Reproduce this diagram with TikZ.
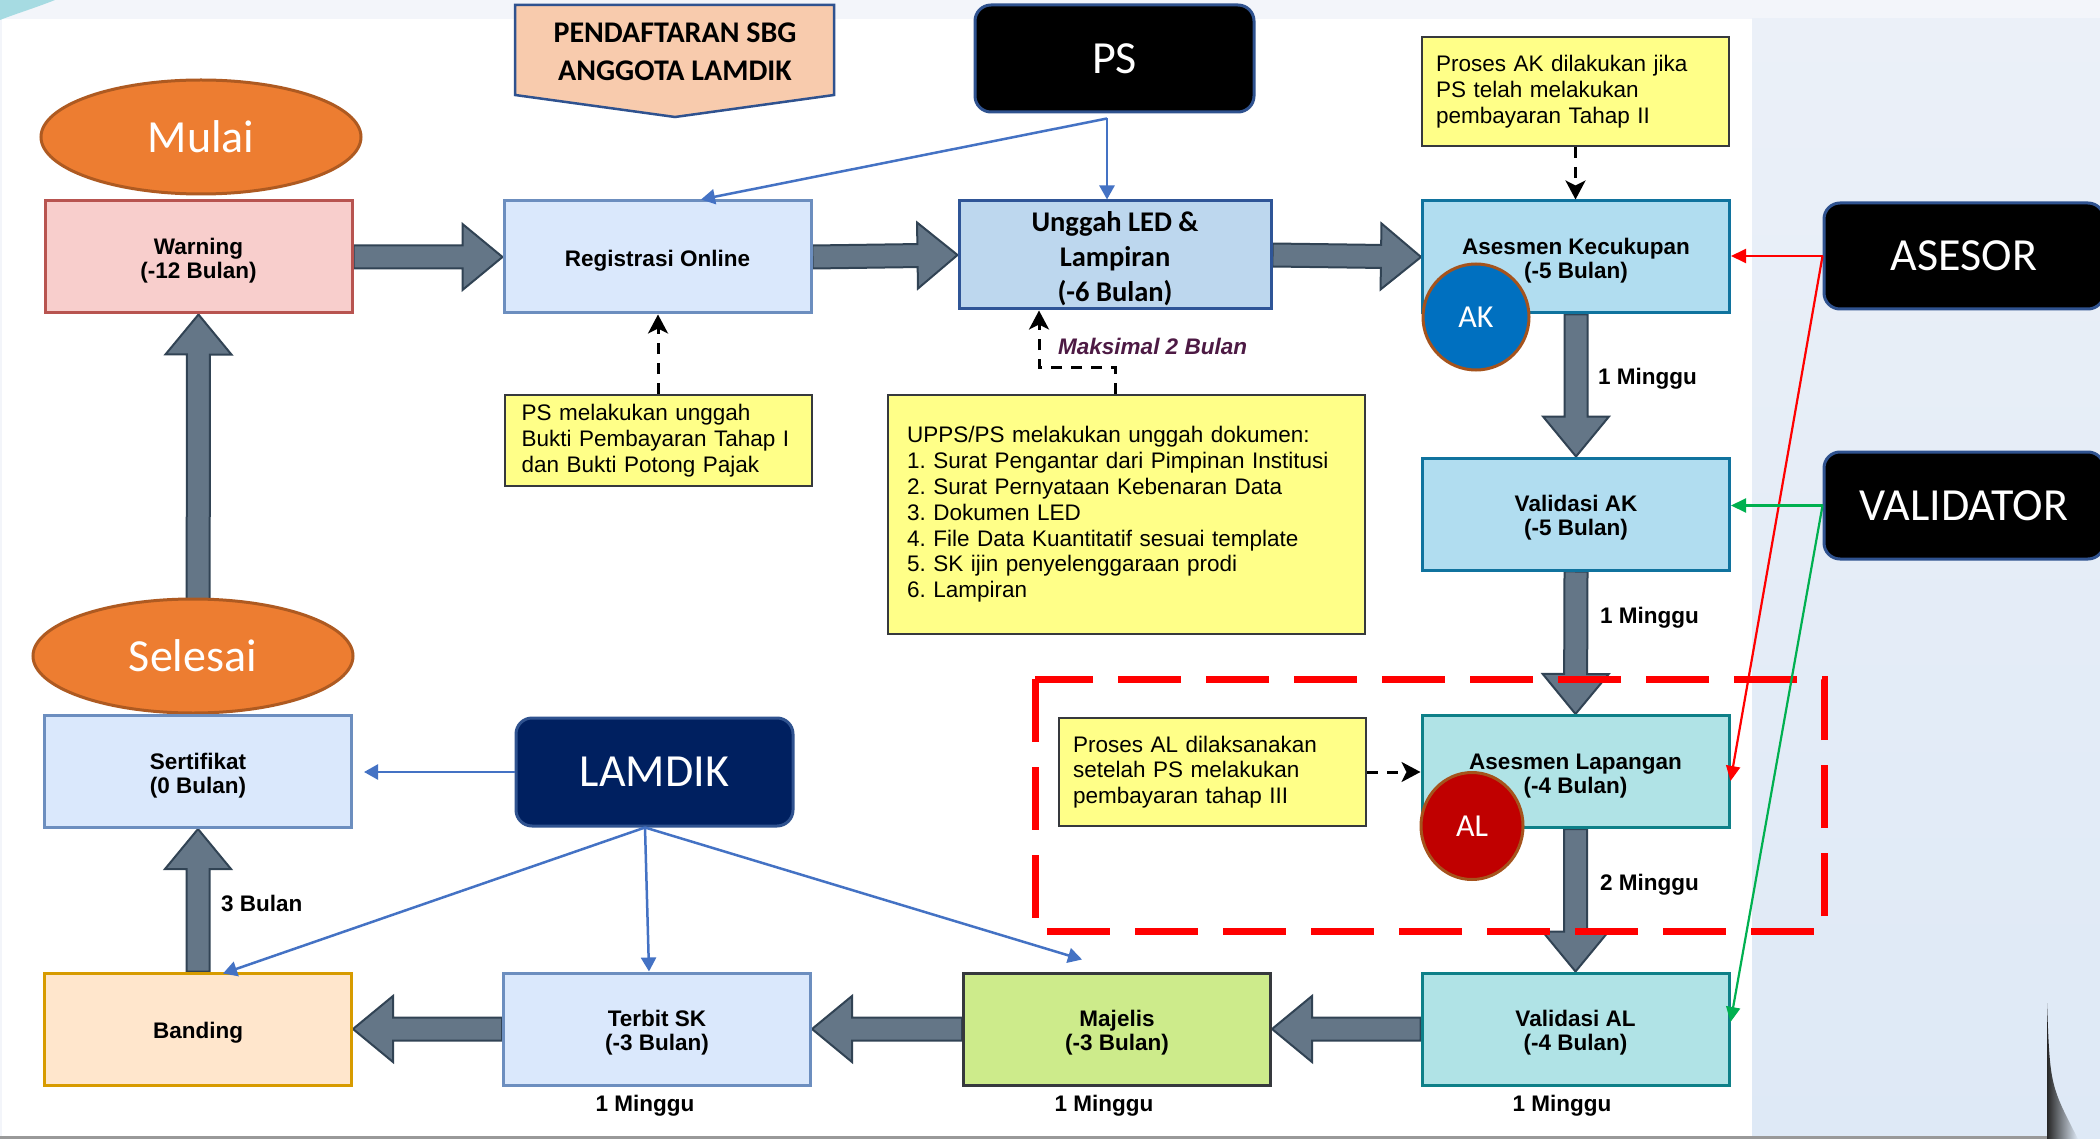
\documentclass[tikz,border=0pt]{standalone}
\usepackage{fontspec}
\setmainfont{Liberation Sans}
\newfontfamily\calfont{Carlito}
\usetikzlibrary{arrows.meta,calc,shapes.geometric}
\frenchspacing
\definecolor{warnF}{HTML}{F8CECC}\definecolor{warnD}{HTML}{B85450}
\definecolor{blueF}{HTML}{DAE8FC}\definecolor{blueD}{HTML}{6C8EBF}
\definecolor{unggF}{HTML}{BDD7EE}\definecolor{unggD}{HTML}{2F5597}
\definecolor{akF}{HTML}{B1DDF0}\definecolor{akD}{HTML}{10739E}
\definecolor{alF}{HTML}{B0E3E6}\definecolor{alD}{HTML}{0E8088}
\definecolor{bandF}{HTML}{FFE6CC}\definecolor{bandD}{HTML}{D79B00}
\definecolor{majF}{HTML}{CDEB8B}\definecolor{majD}{HTML}{36393D}
\definecolor{noteF}{HTML}{FFFF88}\definecolor{noteD}{HTML}{36393D}
\definecolor{arrF}{HTML}{647687}\definecolor{arrD}{HTML}{314354}
\definecolor{orgF}{HTML}{ED7D31}\definecolor{orgD}{HTML}{AE5A21}
\definecolor{pendF}{HTML}{F8CBAD}\definecolor{bdrBlue}{HTML}{2F528F}
\definecolor{lamF}{HTML}{002060}\definecolor{connC}{HTML}{4472C4}
\definecolor{akC}{HTML}{0070C0}\definecolor{alC}{HTML}{C00000}
\definecolor{circD}{HTML}{A5531C}\definecolor{redC}{HTML}{FF0000}
\definecolor{greenC}{HTML}{00B050}\definecolor{maksC}{HTML}{4D1A44}
\definecolor{bandBg}{HTML}{F3F5FA}\definecolor{rightTop}{HTML}{EBF0F8}
\definecolor{rightBot}{HTML}{DEE9F6}\definecolor{swooshC}{HTML}{A6DBE2}
\pgfdeclarelayer{back}\pgfdeclarelayer{bg}\pgfsetlayers{back,bg,main}
\newcommand\blockarr[2]{%
  \coordinate (ba-h) at ($(#2)!40pt!(#1)$);
  \filldraw[barrow] ($(#1)!11.5pt!90:(#2)$) -- ($(ba-h)!11.5pt!-90:(#1)$) -- ($(ba-h)!33pt!-90:(#1)$) -- (#2) -- ($(ba-h)!33pt!90:(#1)$) -- ($(ba-h)!11.5pt!90:(#1)$) -- ($(#1)!11.5pt!-90:(#2)$) -- cycle;}
\newcommand\tstrut{\rule{0pt}{24pt}}
\newcommand\ustrut{\rule{0pt}{28pt}}
\begin{document}
\begin{tikzpicture}[x=1pt,y=-1pt,
  box/.style={draw, line width=3pt, minimum width=307pt, minimum height=112pt, inner sep=0pt, align=center, font=\bfseries\fontsize{22.5}{24}\selectfont},
  note/.style={draw=noteD, fill=noteF, line width=2pt, align=left, inner ysep=0pt, font=\fontsize{22.5}{25.8}\selectfont},
  oval/.style={ellipse, draw=orgD, fill=orgF, line width=3pt, minimum width=320pt, minimum height=114pt, inner sep=0pt, text=white, font=\calfont\fontsize{46}{50}\selectfont},
  blk/.style={rounded corners=16pt, draw=bdrBlue, fill=black, line width=3pt, inner sep=0pt, text=white, font=\calfont\fontsize{46}{50}\selectfont},
  badge/.style={ellipse, draw=circD, line width=3pt, inner sep=0pt, text=white, font=\calfont\fontsize{32}{36}\selectfont},
  barrow/.style={fill=arrF, draw=arrD, line width=2pt, line join=miter},
  conn/.style={draw=connC, line width=2.5pt, -{Triangle[length=14pt,width=15pt]}},
  redc/.style={draw=redC, line width=2.2pt, -{Triangle[length=15pt,width=14pt]}},
  greenc/.style={draw=greenC, line width=2.2pt, -{Triangle[length=15pt,width=14pt]}},
  dasharr/.style={draw=black, line width=3pt, dash pattern=on 11pt off 9pt, -{Stealth[length=19pt,width=20pt,inset=5pt]}},
  lab/.style={inner sep=0pt, font=\bfseries\fontsize{22.5}{24}\selectfont},
  redbox/.style={draw=redC, line width=7pt, dash pattern=on 63pt off 25pt}
]
\useasboundingbox (0,0) rectangle (2100,1139);
\begin{pgfonlayer}{back}
  \fill[bandBg] (0,0) rectangle (2100,1139);
  \fill[white] (2,19) rectangle (1752,1139);
  \shade[top color=rightTop, bottom color=rightBot] (1752,19) rectangle (2100,1139);
  \fill[swooshC] (0,0) -- (55,0) .. controls (35,8) and (15,14) .. (0,20) -- cycle;
  \shade[left color=black!85, right color=rightBot] (2047,1003) .. controls (2050,1085) .. (2078,1139) -- (2047,1139) -- cycle;
  \fill[black!40] (0,1136) rectangle (2047,1139);
\end{pgfonlayer}

% pentagon banner
\draw[fill=pendF, draw=bdrBlue, line width=2.5pt] (515,5) -- (834,5) -- (834,95) -- (675,117) -- (515,95) -- cycle;
\node[align=center, inner sep=0pt, font=\calfont\bfseries\fontsize{30}{38}\selectfont] (pend) at (675,52) {PENDAFTARAN SBG\\ANGGOTA LAMDIK};

% ovals
\node[oval] (mulai) at (201,137) {Mulai};
\node[oval] (sel) at (193,656) {Selesai};

% actor boxes
\node[blk, minimum width=279pt, minimum height=107pt] (ps) at (1114.5,58.5) {PS};
\node[blk, minimum width=280pt, minimum height=106pt] (asesor) at (1964,256) {ASESOR};
\node[blk, minimum width=280pt, minimum height=107pt] (validator) at (1964,505.5) {VALIDATOR};
\node[blk, fill=lamF, minimum width=277pt, minimum height=108pt] (lamdik) at (654.5,772) {LAMDIK};

% process boxes
\node[box, fill=warnF, draw=warnD] (warn) at (198.5,257) {\tstrut Warning\\(-12 Bulan)};
\node[box, fill=blueF, draw=blueD] (reg) at (657.5,257) {\tstrut Registrasi Online};
\node[box, fill=unggF, draw=unggD, minimum width=312pt, minimum height=108pt, font=\calfont\bfseries\fontsize{28.5}{35}\selectfont] (ungg) at (1115,255) {\ustrut Unggah LED \&\\Lampiran\\(-6 Bulan)};
\node[box, fill=akF, draw=akD] (akk) at (1576,257) {\tstrut Asesmen Kecukupan\\(-5 Bulan)};
\node[box, fill=akF, draw=akD] (vak) at (1576,514) {\tstrut Validasi AK\\(-5 Bulan)};
\node[box, fill=alF, draw=alD] (alap) at (1575.5,771.5) {\tstrut Asesmen Lapangan\\(-4 Bulan)};
\node[box, fill=alF, draw=alD] (val) at (1575.5,1029) {\tstrut Validasi AL\\(-4 Bulan)};
\node[box, fill=majF, draw=majD] (maj) at (1117,1029) {\tstrut Majelis\\(-3 Bulan)};
\node[box, fill=blueF, draw=blueD] (tsk) at (657,1029) {\tstrut Terbit SK\\(-3 Bulan)};
\node[box, fill=bandF, draw=bandD] (band) at (198,1029) {\tstrut Banding};
\node[box, fill=blueF, draw=blueD] (sert) at (198,771.5) {\tstrut Sertifikat\\(0 Bulan)};

% badges
\node[badge, fill=akC, minimum width=106pt, minimum height=106pt] (akb) at (1476,317) {AK};
\node[badge, fill=alC, minimum width=102pt, minimum height=107pt] (alb) at (1472,826) {AL};

% notes
\node[note, text width=273pt, inner xsep=17pt, minimum height=91pt] (psnote) at (658,440.5) {PS melakukan unggah\\Bukti Pembayaran Tahap I\\dan Bukti Potong Pajak};
\node[note, text width=439pt, inner xsep=19pt, minimum height=239pt] (upps) at (1126.5,514.5) {UPPS/PS melakukan unggah dokumen:\\1. Surat Pengantar dari Pimpinan Institusi\\2. Surat Pernyataan Kebenaran Data\\3. Dokumen LED\\4. File Data Kuantitatif sesuai template\\5. SK ijin penyelenggaraan prodi\\6. Lampiran};
\node[note, text width=279pt, inner xsep=14pt, minimum height=109pt] (aknote) at (1575.5,91.5) {Proses AK dilakukan jika\\PS telah melakukan\\pembayaran Tahap II};
\node[note, text width=279pt, inner xsep=14pt, minimum height=108pt] (alnote) at (1212.5,772) {Proses AL dilaksanakan\\setelah PS melakukan\\pembayaran tahap III};

% labels
\node[lab, anchor=west] (m1) at (1598,379) {1 Minggu};
\node[lab, anchor=west] (m2) at (1600,618) {1 Minggu};
\node[lab, anchor=west] (m3) at (1600,885) {2 Minggu};
\node[lab, anchor=west] (b3) at (221,903) {3 Bulan};
\node[lab] (m4) at (645,1106) {1 Minggu};
\node[lab] (m5) at (1104,1106) {1 Minggu};
\node[lab] (m6) at (1562,1106) {1 Minggu};
\node[lab, anchor=west, text=maksC, font=\bfseries\itshape\fontsize{22.5}{24}\selectfont] (maks) at (1058,346) {Maksimal 2 Bulan};

% thick block arrows (behind the boxes)
\begin{pgfonlayer}{bg}
  \blockarr{warn.east}{reg.west}
  \blockarr{reg.east}{ungg.west}
  \blockarr{ungg.east}{akk.west}
  \blockarr{akk.south}{vak.north}
  \blockarr{vak.south}{alap.north}
  \blockarr{alap.south}{val.north}
  \blockarr{val.west}{maj.east}
  \blockarr{maj.west}{tsk.east}
  \blockarr{tsk.west}{band.east}
  \blockarr{band.north}{sert.south}
  \blockarr{sert.north}{warn.south}
\end{pgfonlayer}

% red dashed frame
\draw[redbox] (1035,679) rectangle (1824,931);

% blue connectors
\coordinate (psA) at ([shift={(-7.5,5)}]ps.south);
\draw[conn] (psA) -- ([xshift=43.5pt]reg.north);
\draw[conn] (psA) -- ([xshift=-8pt]ungg.north);
\coordinate (sertT) at ([xshift=11pt]sert.east);
\draw[conn] (lamdik.west) -- (sertT |- lamdik.west);
\coordinate (lamB) at ([xshift=-9.5pt]lamdik.south);
\draw[conn] (lamB) -- ([xshift=25pt,yshift=-2pt]band.north);
\draw[conn] (lamB) -- ([xshift=-8pt]tsk.north);
\draw[conn] (lamB) -- ([xshift=-35pt,yshift=12pt]maj.north);

% asesor / validator connectors
\draw[redc] (asesor.west) -- (akk.east |- asesor.west);
\draw[redc] (asesor.west) -- ([yshift=-9.5pt]alap.east);
\draw[greenc] (validator.west) -- (vak.east |- validator.west);
\draw[greenc] (validator.west) -- ([yshift=7pt]val.east);

% dashed note arrows
\draw[dasharr] (psnote.north) -- (reg.south -| psnote.north);
\draw[dasharr] (aknote.south) -- (akk.north -| aknote.south);
\draw[dasharr] (alnote.east) -- (alap.west |- alnote.east);
\coordinate (upA) at (upps.north -| ungg.south);
\coordinate (upT) at ([xshift=-76pt]ungg.south);
\draw[dasharr] (upA) -- ++(0,-27) -| (upT);
\end{tikzpicture}
\end{document}
